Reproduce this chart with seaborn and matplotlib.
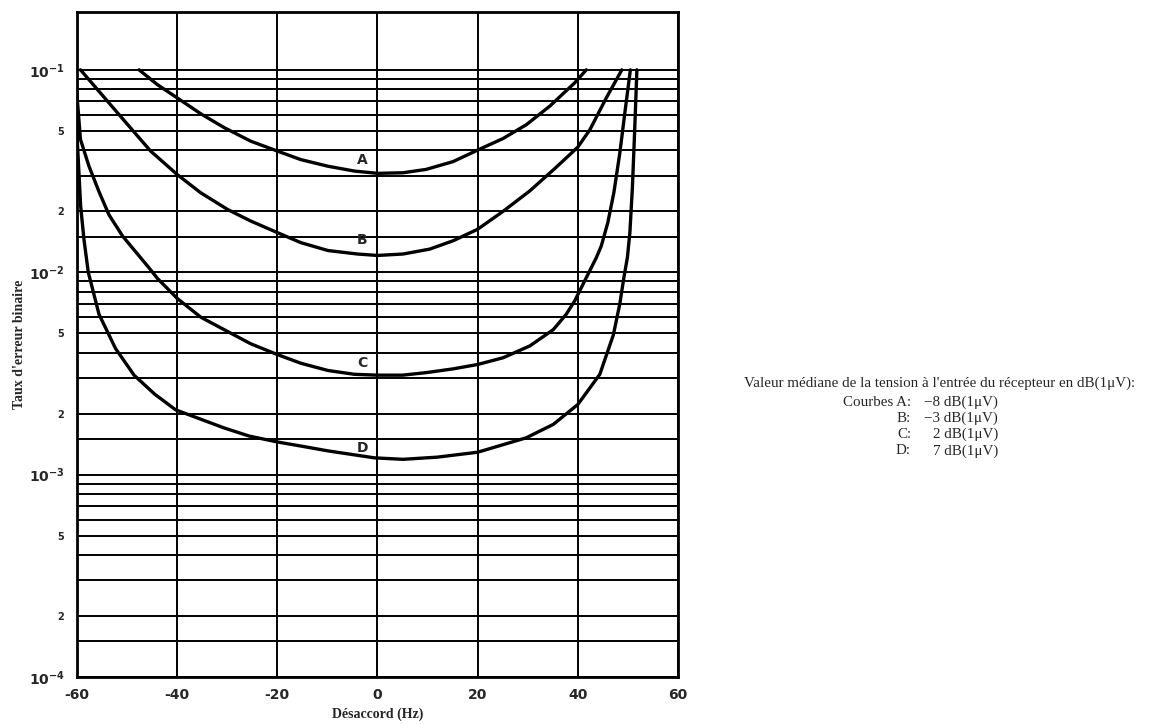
import matplotlib
matplotlib.use("Agg")
import matplotlib.pyplot as plt
import seaborn as sns
import pandas as pd

# values (detuning in Hz, bit error rate)
a_x = [-47.6, -44, -40, -35.3, -30.6, -25.3, -20, -15.3, -9.9, -4.6, 0, 5.1, 9.7, 15.1, 19.6, 25.1, 29.7, 34.4, 39.4, 41.7]
a_y = [0.100, 0.0847, 0.0727, 0.0607, 0.0518, 0.0444, 0.0397, 0.036, 0.0334, 0.0316, 0.0308, 0.031, 0.0322, 0.0352, 0.0397, 0.0458, 0.0535, 0.0661, 0.0863, 0.100]

b_x = [-59.3, -54.6, -49.9, -45.3, -40, -35.3, -29.9, -25.3, -20, -15.3, -9.9, -4, 0, 5.1, 10.4, 15.1, 20, 25.1, 30.4, 35.4, 40, 42.4, 45.7, 48.8]
b_y = [0.100, 0.0733, 0.0537, 0.0397, 0.0304, 0.0247, 0.0204, 0.0179, 0.0157, 0.014, 0.0128, 0.0123, 0.0121, 0.0123, 0.013, 0.0143, 0.0163, 0.020, 0.0252, 0.0325, 0.0415, 0.0505, 0.0727, 0.100]

c_x = [-60, -59.3, -57.6, -55.6, -53.6, -50.9, -47.3, -45.6, -43.9, -40, -35.3, -30.6, -25.3, -20, -15.3, -9.9, -4.6, 0, 5, 9.7, 15.1, 20, 25.1, 30.4, 35.1, 37.7, 39.4, 41.7, 43.7, 44.7, 46.0, 47.2, 48.4, 49.4, 50.5]
c_y = [0.0752, 0.0453, 0.0334, 0.025, 0.0192, 0.0151, 0.0118, 0.0105, 0.0093, 0.00743, 0.0060, 0.0052, 0.00443, 0.00392, 0.00355, 0.00327, 0.00313, 0.0031, 0.0031, 0.00319, 0.00333, 0.0035, 0.00378, 0.00432, 0.0052, 0.0062, 0.00723, 0.0094, 0.0118, 0.0135, 0.0176, 0.0247, 0.0389, 0.0614, 0.100]

d_x = [-60, -59.94, -59.26, -58.6, -57.74, -55.6, -52.3, -48.6, -44.5, -40.3, -30.6, -25.6, -20, -15, -9.9, -0.6, 5.1, 12, 20, 29.7, 35.1, 40, 44.4, 47.1, 48.4, 49.2, 49.9, 50.4, 50.9, 51.3, 51.6, 51.8]
d_y = [0.078, 0.045, 0.0212, 0.0145, 0.0100, 0.0062, 0.0042, 0.0031, 0.0025, 0.00209, 0.0017, 0.00155, 0.00145, 0.00138, 0.00131, 0.00121, 0.00119, 0.00122, 0.00129, 0.00152, 0.00177, 0.00222, 0.00313, 0.0049, 0.0070, 0.0094, 0.0118, 0.0157, 0.0261, 0.0461, 0.0727, 0.100]

curve_names = ["A", "B", "C", "D"]
label_x = [-3, -3, -3, -3]
label_y = [0.036, 0.0145, 0.00357, 0.00136]

x_ticks = [-60, -40, -20, 0, 20, 40, 60]
x_tick_labels = ["-60", "-40", "-20", "0", "20", "40", "60"]
mantissas = [1, 1.5, 2, 3, 4, 5, 6, 7, 8, 9]
decades = [1e-4, 1e-3, 1e-2]

legend_title = "Valeur médiane de la tension à l'entrée du récepteur en dB(1μV):"
legend_keys = ["Courbes A:", "B:", "C:", "D:"]
legend_vals = ["−8 dB(1μV)", "−3 dB(1μV)", "2 dB(1μV)", "7 dB(1μV)"]

frames = []
for name, xs, ys in zip(curve_names, [a_x, b_x, c_x, d_x], [a_y, b_y, c_y, d_y]):
    frames.append(pd.DataFrame({"x": xs, "y": ys, "courbe": name}))
df = pd.concat(frames, ignore_index=True)

sns.set_style("white")
plt.rcParams["mathtext.fontset"] = "dejavusans"

fig = plt.figure(figsize=(11.52, 7.24), dpi=100)
ax = fig.add_axes([0.0668, 0.0649, 0.5217, 0.9185])

sns.lineplot(data=df, x="x", y="y", hue="courbe", units="courbe", estimator=None, sort=False,
             palette=["black"] * 4, linewidth=2.4, legend=False, ax=ax)

ax.set_yscale("log")
ax.set_xlim(-60, 60)
ax.set_ylim(1e-4, 0.193)

# horizontal grid: 1, 1.5, 2, 3 ... 9 in each decade, labels only at 10^n, 5 and 2
y_ticks, y_labels = [], []
for i, dec in enumerate(decades):
    for m in mantissas:
        y_ticks.append(dec * m)
        if m == 1:
            y_labels.append(r"$\mathbf{10^{-%d}}$" % (4 - i))
        elif m in (2, 5):
            y_labels.append(str(m))
        else:
            y_labels.append("")
y_ticks.append(1e-1)
y_labels.append(r"$\mathbf{10^{-1}}$")

ax.set_yticks(y_ticks)
ax.set_yticklabels(y_labels)
ax.yaxis.set_minor_locator(matplotlib.ticker.NullLocator())
for lbl, txt in zip(ax.get_yticklabels(), y_labels):
    lbl.set_fontweight("bold")
    lbl.set_fontsize(10 if txt.startswith("$") else 7)

ax.set_xticks(x_ticks)
ax.set_xticklabels(x_tick_labels, fontsize=10, fontweight="bold")
ax.tick_params(axis="both", length=0)
ax.tick_params(axis="y", pad=9)
ax.tick_params(axis="x", pad=8)

ax.grid(True, which="major", color="black", linewidth=1.4)
for s in ax.spines.values():
    s.set_color("black")
    s.set_linewidth(2)

ax.set_xlabel("Désaccord (Hz)", fontsize=10, fontweight="bold", family="Liberation Serif")
ax.xaxis.set_label_coords(0.5, -0.046)
ax.set_ylabel("Taux d'erreur binaire", fontsize=10, fontweight="bold", family="Liberation Serif")
ax.yaxis.set_label_coords(-0.085, 0.5)

for name, lx, ly in zip(curve_names, label_x, label_y):
    ax.text(lx, ly, name, fontsize=10, fontweight="bold", ha="center", va="center",
            family="DejaVu Sans")

# notes on the right
fig.text(940 / 1152, 1 - 383 / 724, legend_title, fontsize=10.8, family="Liberation Serif",
         ha="center", va="center")
for i, (k, v) in enumerate(zip(legend_keys, legend_vals)):
    yy = 1 - (402 + i * 16.3) / 724
    fig.text(911 / 1152, yy, k, fontsize=10.8, family="Liberation Serif", ha="right", va="center")
    fig.text(998 / 1152, yy, v, fontsize=10.8, family="Liberation Serif", ha="right", va="center")

fig.savefig("out.png", dpi=100)
